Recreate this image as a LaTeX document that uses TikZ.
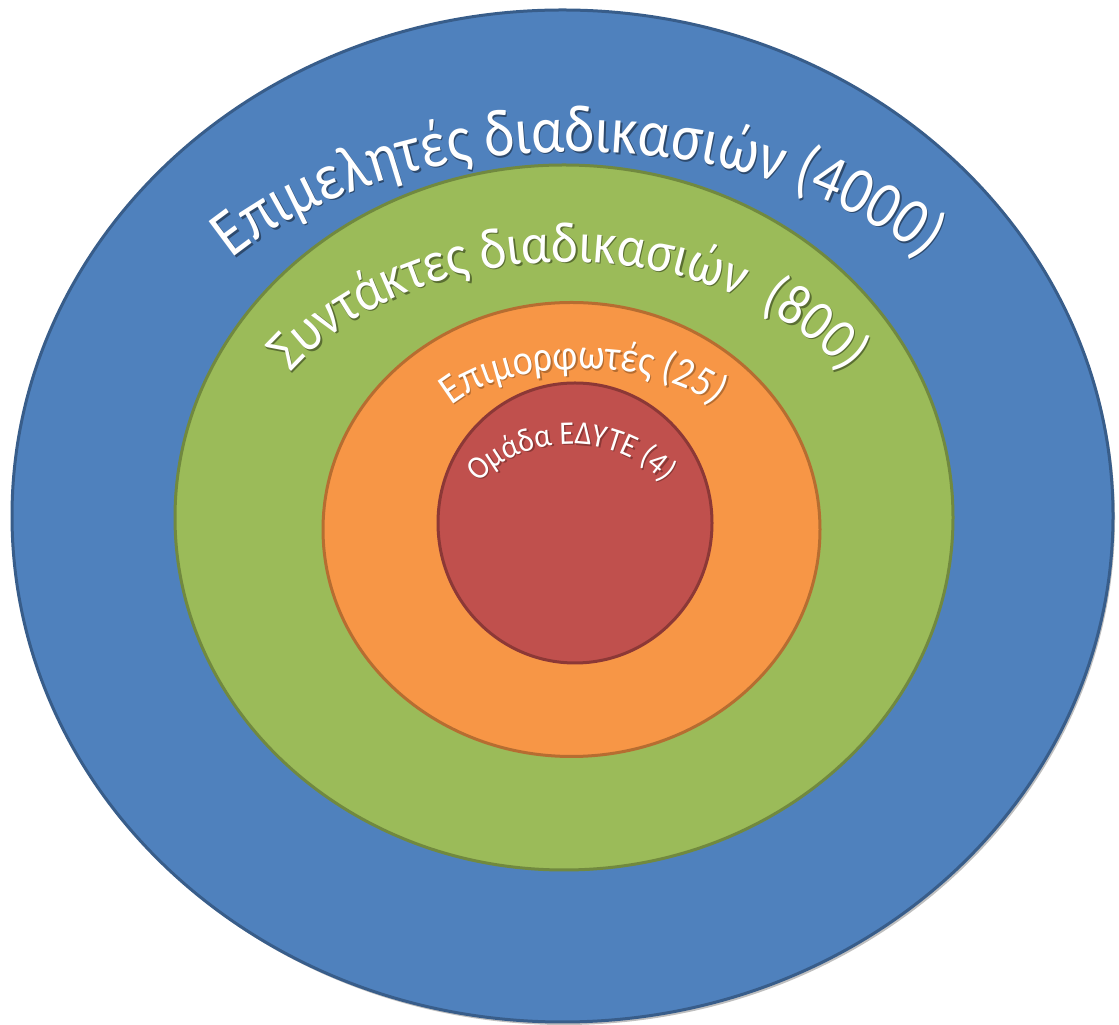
\documentclass[tikz,border=0pt]{standalone}
\usepackage{fontspec}
\newfontfamily\calf{Carlito}
\usetikzlibrary{decorations.text,shapes.geometric}
\definecolor{cblue}{HTML}{4F81BD}
\definecolor{cblueD}{HTML}{385D8A}
\definecolor{cgreen}{HTML}{9BBB59}
\definecolor{cgreenD}{HTML}{71893F}
\definecolor{corange}{HTML}{F79646}
\definecolor{corangeD}{HTML}{B66D31}
\definecolor{cred}{HTML}{C0504D}
\definecolor{credD}{HTML}{8C3836}
\tikzset{
  ring/.style={ellipse, inner sep=0pt, outer sep=0pt, line width=3pt},
  shadowring/.style={ellipse, inner sep=0pt, outer sep=0pt, fill=black, opacity=0.25},
}
\newcommand\fsz[2]{\calf\fontsize{#1}{#1}\selectfont\addfontfeature{FakeStretch=#2}}
% #1 shadow colour, #2 font command, #3 text, #4 cx, #5 cy (image coords), #6 rx, #7 ry, #8 start, #9 end
\newcommand\ringtext[9]{%
  \path[decorate, decoration={text along path, text align=center, text color=#1,
    text={|#2|#3}}]
    ([shift={(#8:#6 and #7)}]#4+1.5,1025-#5-1.5) arc[start angle=#8, end angle=#9, x radius=#6, y radius=#7];
  \path[decorate, decoration={text along path, text align=center, text color=white,
    text={|#2|#3}}]
    ([shift={(#8:#6 and #7)}]#4,1025-#5) arc[start angle=#8, end angle=#9, x radius=#6, y radius=#7];
}
\begin{document}
\begin{tikzpicture}[x=1pt,y=1pt]
\useasboundingbox (0,0) rectangle (1119,1025);
% shadow
\node[shadowring, minimum width=1101pt, minimum height=1012pt] (blueshadow) at (564.5,506) {};
% rings
\node[ring, fill=cblue, draw=cblueD, minimum width=1101pt, minimum height=1012pt] (blue) at (562.5,509) {};
\node[ring, fill=cgreen, draw=cgreenD, minimum width=778pt, minimum height=705pt] (green) at (564,507.5) {};
\node[ring, fill=corange, draw=corangeD, minimum width=497pt, minimum height=454pt] (orange) at (571.5,495.5) {};
\node[ring, fill=cred, draw=credD, minimum width=274pt, minimum height=280pt] (red) at (575,502) {};
% texts
\ringtext{cblueD!80!black}{\fsz{67}{0.86}}{Επιμελητές διαδικασιών (4000)}{578}{432}{440}{280}{178}{2}
\ringtext{cgreenD!80!black}{\fsz{58}{0.88}}{Συντάκτες διαδικασιών {\ }(800)}{568}{508}{332}{246}{178}{2}
\ringtext{corangeD}{\fsz{43}{0.88}}{Επιμορφωτές (25)}{583}{439}{150}{70}{178}{2}
\ringtext{credD}{\fsz{33}{0.9}}{Ομάδα ΕΔΥΤΕ (4)}{571}{550}{120}{106}{178}{2}
\end{tikzpicture}
\end{document}
